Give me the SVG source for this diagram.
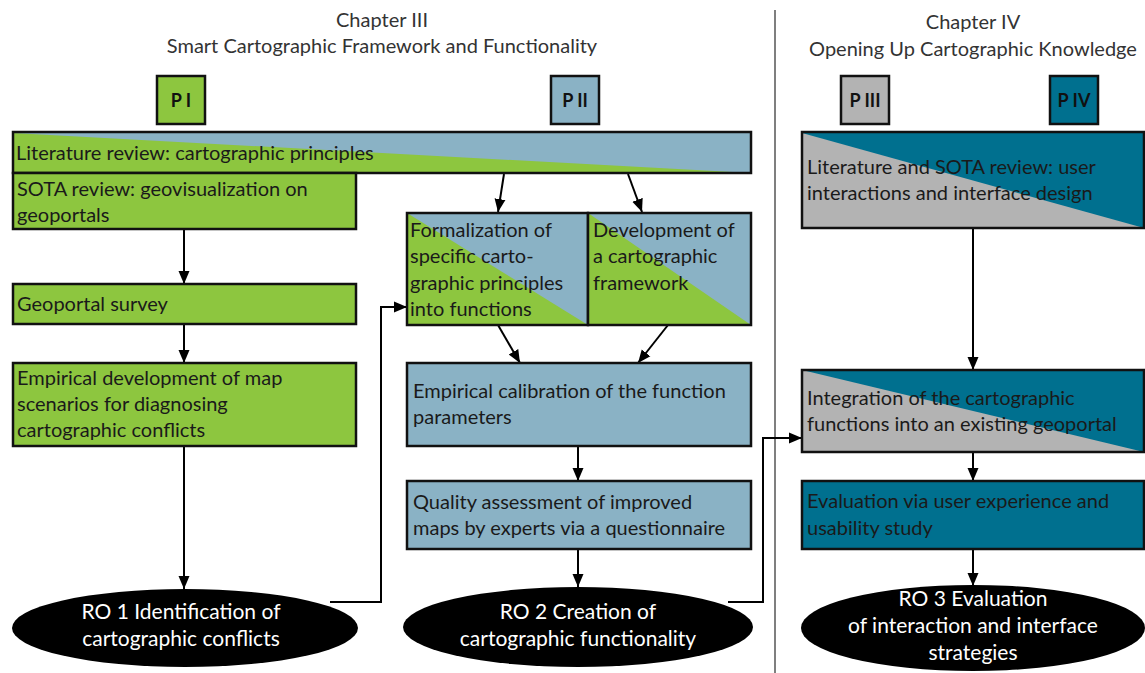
<svg xmlns="http://www.w3.org/2000/svg" width="1145" height="673" viewBox="0 0 1145 673">
  <style>
    .lbl { font-family: Lato, "Noto Sans", sans-serif; font-size: 20px; fill: #1a1a1a; }
    .head { font-family: Lato, "Noto Sans", sans-serif; font-size: 20px; fill: #333; text-anchor: middle; }
    .tag { font-family: Lato, "Noto Sans", sans-serif; font-size: 18px; font-weight: bold; fill: #111; text-anchor: middle; }
    .ro { font-family: Lato, "Noto Sans", sans-serif; font-size: 21px; fill: #fff; text-anchor: middle; }
    .box { stroke: #111; stroke-width: 2.5; }
    .frame { fill: none; stroke: #111; stroke-width: 2.5; }
    .green { fill: #8dc63f; }
    .blue { fill: #8ab2c5; }
    .grey { fill: #b3b3b3; }
    .teal { fill: #00708f; }
    .edge { fill: none; stroke: #000; stroke-width: 2; marker-end: url(#arrow); }
  </style>
  <defs>
    <marker id="arrow" markerUnits="userSpaceOnUse" markerWidth="14" markerHeight="14" viewBox="0 0 14 14" refX="13" refY="7" orient="auto">
      <path d="M0,1.5 L13,7 L0,12.5 Z" fill="#000"/>
    </marker>
  </defs>

  <rect width="1145" height="673" fill="#fff"/>

  <!-- chapter separator -->
  <line x1="775" y1="10" x2="775" y2="673" stroke="#555" stroke-width="1.5"/>

  <!-- chapter headings -->
  <g id="chapter3">
    <text class="head" x="382" y="27">Chapter III</text>
    <text class="head" x="382" y="53">Smart Cartographic Framework and Functionality</text>
  </g>
  <g id="chapter4">
    <text class="head" x="973" y="29">Chapter IV</text>
    <text class="head" x="973" y="56">Opening Up Cartographic Knowledge</text>
  </g>

  <!-- paper tags -->
  <g id="p1"><rect class="box green" x="157" y="76" width="48" height="48"/><text class="tag" x="181" y="107">P I</text></g>
  <g id="p2"><rect class="box blue" x="551" y="76" width="48" height="48"/><text class="tag" x="575" y="107">P II</text></g>
  <g id="p3"><rect class="box grey" x="841" y="76" width="48" height="48"/><text class="tag" x="865" y="107">P III</text></g>
  <g id="p4"><rect class="box teal" x="1050" y="76" width="48" height="48"/><text class="tag" x="1074" y="107">P IV</text></g>

  <!-- connectors -->
  <g id="connectors">
    <line class="edge" x1="184" y1="229" x2="184" y2="284"/>
    <line class="edge" x1="184" y1="324" x2="184" y2="363"/>
    <line class="edge" x1="184" y1="446" x2="184" y2="589"/>
    <polyline class="edge" points="330,602 381,602 381,307 407,307"/>
    <line class="edge" x1="504" y1="174" x2="498" y2="212"/>
    <line class="edge" x1="628" y1="174" x2="642" y2="212"/>
    <line class="edge" x1="498" y1="325" x2="520" y2="363"/>
    <line class="edge" x1="668" y1="325" x2="638" y2="363"/>
    <line class="edge" x1="578" y1="446" x2="578" y2="481"/>
    <line class="edge" x1="578" y1="549" x2="578" y2="587"/>
    <polyline class="edge" points="728,602 763,602 763,438 802,438"/>
    <line class="edge" x1="973" y1="228" x2="973" y2="370"/>
    <line class="edge" x1="973" y1="452" x2="973" y2="481"/>
    <line class="edge" x1="973" y1="549" x2="973" y2="586"/>
  </g>

  <!-- Chapter III nodes -->
  <g id="lit-review">
    <rect class="blue" x="13" y="132" width="738" height="41"/>
    <polygon class="green" points="13,133 751,173 13,173"/>
    <rect class="frame" x="13" y="132" width="738" height="41"/>
    <text class="lbl" x="16" y="160">Literature review: cartographic principles</text>
  </g>
  <g id="sota-review">
    <rect class="box green" x="13" y="173" width="343" height="56"/>
    <text class="lbl" x="17" y="196">SOTA review: geovisualization on</text>
    <text class="lbl" x="17" y="222">geoportals</text>
  </g>
  <g id="geoportal-survey">
    <rect class="box green" x="13" y="284" width="343" height="40"/>
    <text class="lbl" x="17" y="311">Geoportal survey</text>
  </g>
  <g id="map-scenarios">
    <rect class="box green" x="13" y="363" width="343" height="83"/>
    <text class="lbl" x="17" y="385">Empirical development of map</text>
    <text class="lbl" x="17" y="411">scenarios for diagnosing</text>
    <text class="lbl" x="17" y="437">cartographic conflicts</text>
  </g>
  <g id="formalization">
    <rect class="blue" x="407" y="213" width="181" height="112"/>
    <polygon class="green" points="407,213 588,325 407,325"/>
    <rect class="frame" x="407" y="213" width="181" height="112"/>
    <text class="lbl" x="410" y="237">Formalization of</text>
    <text class="lbl" x="410" y="263">specific carto-</text>
    <text class="lbl" x="410" y="290">graphic principles</text>
    <text class="lbl" x="410" y="316">into functions</text>
  </g>
  <g id="framework">
    <rect class="blue" x="588" y="213" width="163" height="112"/>
    <polygon class="green" points="588,213 751,325 588,325"/>
    <rect class="frame" x="588" y="213" width="163" height="112"/>
    <text class="lbl" x="593" y="237">Development of</text>
    <text class="lbl" x="593" y="263">a cartographic</text>
    <text class="lbl" x="593" y="290">framework</text>
  </g>
  <g id="calibration">
    <rect class="box blue" x="407" y="363" width="344" height="83"/>
    <text class="lbl" x="413" y="398">Empirical calibration of the function</text>
    <text class="lbl" x="413" y="424">parameters</text>
  </g>
  <g id="quality">
    <rect class="box blue" x="407" y="481" width="344" height="68"/>
    <text class="lbl" x="413" y="509">Quality assessment of improved</text>
    <text class="lbl" x="413" y="535">maps by experts via a questionnaire</text>
  </g>
  <g id="ro1">
    <ellipse cx="185" cy="628" rx="173" ry="39" fill="#000"/>
    <text class="ro" x="181" y="619">RO 1 Identification of</text>
    <text class="ro" x="181" y="646">cartographic conflicts</text>
  </g>
  <g id="ro2">
    <ellipse cx="578" cy="627" rx="175" ry="40" fill="#000"/>
    <text class="ro" x="578" y="619">RO 2 Creation of</text>
    <text class="ro" x="578" y="646">cartographic functionality</text>
  </g>

  <!-- Chapter IV nodes -->
  <g id="ui-review">
    <rect class="teal" x="802" y="132" width="342" height="96"/>
    <polygon class="grey" points="802,133 1144,228 802,228"/>
    <rect class="frame" x="802" y="132" width="342" height="96"/>
    <text class="lbl" x="807" y="174">Literature and SOTA review: user</text>
    <text class="lbl" x="807" y="200">interactions and interface design</text>
  </g>
  <g id="integration">
    <rect class="teal" x="802" y="370" width="342" height="82"/>
    <polygon class="grey" points="802,370 1144,452 802,452"/>
    <rect class="frame" x="802" y="370" width="342" height="82"/>
    <text class="lbl" x="807" y="405">Integration of the cartographic</text>
    <text class="lbl" x="807" y="431">functions into an existing geoportal</text>
  </g>
  <g id="evaluation">
    <rect class="box teal" x="802" y="481" width="342" height="68"/>
    <text class="lbl" x="807" y="508">Evaluation via user experience and</text>
    <text class="lbl" x="807" y="535">usability study</text>
  </g>
  <g id="ro3">
    <ellipse cx="973" cy="628" rx="172" ry="43" fill="#000"/>
    <text class="ro" x="973" y="606">RO 3 Evaluation</text>
    <text class="ro" x="973" y="633">of interaction and interface</text>
    <text class="ro" x="973" y="660">strategies</text>
  </g>
</svg>
